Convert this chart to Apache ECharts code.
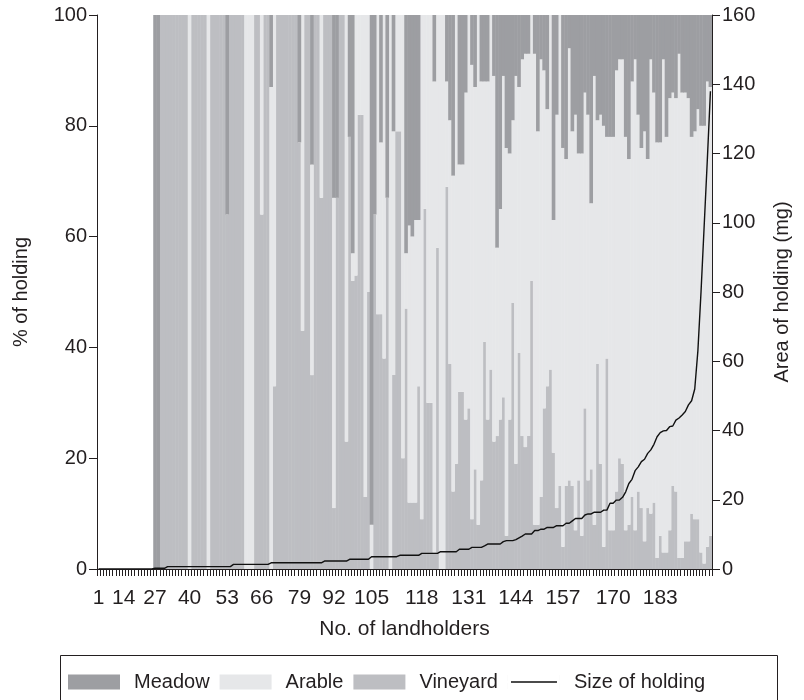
<!DOCTYPE html>
<html>
<head>
<meta charset="utf-8">
<script src="https://cdn.jsdelivr.net/npm/echarts@6/dist/echarts.min.js"></script>
<style>
  html, body { margin: 0; padding: 0; background: #ffffff; }
  #chart { width: 804px; height: 700px; }
</style>
</head>
<body>
<div id="chart"></div>
<script>
// Landholders, ranked by size of holding (one slot per landholder)
const landholders = Array.from({ length: 196 }, (_, i) => String(i + 1));

// Labels printed under the axis and the slots they sit under
const tickLabels = ['1', '14', '27', '40', '53', '66', '79', '92', '105', '118', '131', '144', '157', '170', '183'];
const labelSlots = [0, 8, 18, 29, 41, 52, 64, 75, 87, 103, 118, 133, 148, 164, 179];

// Share of each holding (%)
const meadow = [
  0,0,0,0,0,0,0,0,0,0,
  0,0,0,0,0,0,0,0,100,100,
  0,0,0,0,0,0,0,0,0,0,
  0,0,0,0,0,0,0,0,0,0,
  0,36,0,0,0,0,0,0,0,0,
  0,0,0,0,0,13,0,0,0,0,
  0,0,0,0,23,0,0,0,27,0,
  0,0,0,0,0,33,33,0,0,0,
  22,43,0,0,0,0,0,92,36,0,
  23,0,33,0,21,0,0,0,43,38,
  40,37,37,0,0,0,0,12,0,0,
  0,12,19,29,0,27,27,14,0,9,
  13,0,12,12,12,0,11,42,35,11,
  24,25,19,11,13,8,7,7,0,7,
  21,8,10,17,0,37,18,0,24,26,
  6,21,18,25,25,14,18,34,11,19,
  18,20,22,22,22,10,8,8,22,26,
  12,8,18,24,21,26,8,14,23,23,
  8,22,15,14,15,7,14,14,15,22,
  21,17,20,20,12,13
];
const arable = [
  0,0,0,0,0,0,0,0,0,0,
  0,0,0,0,0,0,0,0,0,0,
  0,0,0,0,0,0,0,0,0,100,
  0,0,0,0,0,100,0,0,0,0,
  0,0,0,0,0,0,0,100,100,100,
  0,0,36,0,0,87,67,0,0,0,
  0,0,0,0,0,57,0,0,38,0,
  0,33,0,0,0,56,0,0,0,77,
  0,5,47,18,18,87,50,8,0,54,
  31,62,0,100,44,21,21,80,10,50,
  48,51,30,91,35,70,70,85,42,100,
  100,19,44,57,81,41,41,59,71,82,
  69,92,72,47,61,64,66,34,38,58,
  70,48,33,70,48,68,71,69,48,85,
  71,79,61,50,64,42,71,85,72,59,
  78,64,75,59,69,57,66,48,81,44,
  63,76,40,71,71,76,72,73,71,66,
  75,85,68,65,74,63,82,74,75,71,
  89,75,78,71,71,91,84,81,80,68,
  70,74,77,79,84,81
];
const vineyard = [
  0,0,0,0,0,0,0,0,0,0,
  0,0,0,0,0,0,0,0,0,0,
  100,100,100,100,100,100,100,100,100,0,
  100,100,100,100,100,0,100,100,100,100,
  100,64,100,100,100,100,100,0,0,0,
  100,100,64,100,100,0,33,100,100,100,
  100,100,100,100,77,43,100,100,35,100,
  100,67,100,100,100,11,67,100,100,23,
  78,52,53,82,82,13,50,0,64,46,
  46,38,67,0,35,79,79,20,47,12,
  12,12,33,9,65,30,30,3,58,0,
  0,69,37,14,19,32,32,27,29,9,
  18,8,16,41,27,36,23,24,27,31,
  6,27,48,19,39,24,22,24,52,8,
  8,13,29,33,36,21,11,15,4,15,
  16,15,7,16,6,29,16,18,8,37,
  19,4,38,7,7,14,20,19,7,8,
  13,7,14,11,5,11,10,12,2,6,
  3,3,7,15,14,2,2,5,5,10,
  9,9,3,1,4,6
];

// Size of holding (mg)
const holdingSize = [
  0,0,0,0,0,0,0,0,0,0,
  0,0,0,0,0,0,0,0,0.2,0.2,
  0.2,0.2,0.7,0.7,0.7,0.7,0.7,0.7,0.7,0.7,
  0.7,0.7,0.7,0.7,0.7,0.7,0.7,0.7,0.7,0.7,
  0.7,0.7,0.7,1.35,1.35,1.35,1.35,1.35,1.35,1.35,
  1.35,1.35,1.35,1.35,1.35,1.8,1.8,1.8,1.8,1.8,
  1.8,1.8,1.8,1.8,1.8,1.8,1.8,1.8,1.8,1.8,
  1.8,1.8,2.3,2.3,2.3,2.3,2.3,2.3,2.3,2.3,
  2.8,2.8,2.8,2.8,2.8,2.8,2.8,3.55,3.55,3.55,
  3.55,3.55,3.55,3.55,3.55,3.55,3.95,3.95,3.95,3.95,
  3.95,3.95,3.95,4.5,4.5,4.5,4.5,4.5,4.5,5.0,
  5.0,5.0,5.0,5.0,5.0,5.7,5.7,5.7,5.7,6.25,
  6.25,6.25,6.25,6.7,7.2,7.2,7.2,7.2,7.2,7.9,
  8.2,8.2,8.2,8.5,9.0,9.5,10.1,10.1,10.1,11.1,
  11.1,11.5,11.5,12.0,12.0,12.0,12.5,12.5,12.5,13.2,
  13.2,13.9,14.6,14.6,14.6,15.6,15.9,15.9,16.4,16.4,
  16.4,17.0,17.0,19.0,19.0,19.9,19.9,20.7,22.3,24.7,
  25.9,28.4,29.5,31.0,31.7,33.4,34.4,36.0,38.2,39.4,
  39.9,40.0,41.1,41.3,43.0,43.6,44.5,45.5,47.4,48.6,
  52,63,80,99,118,138
];

const FONT = "'Liberation Sans', Arial, Helvetica, sans-serif";
const INK = '#231f20';
const COLORS = { meadow: '#9d9ea2', arable: '#e6e7e9', vineyard: '#bdbec2' };

// Legend key for the line: a plain horizontal stroke (the thin uprights keep the box 52x15)
const LINE_KEY = 'path://M0,0H0.01V15H0Z M51.99,0H52V15H51.99Z M3,6.8H49V8.2H3Z';

const chart = echarts.init(document.getElementById('chart'), null, { renderer: 'canvas' });

const textBase = { fontFamily: FONT, fontSize: 20, color: INK };
const textX = { fontFamily: FONT, fontSize: 21, color: INK };

// Slightly wider than the slot so neighbouring bars close up without seams
const BAR_WIDTH = '116%';

chart.setOption({
  animation: false,
  backgroundColor: '#ffffff',
  grid: { left: 97, right: 92, top: 15, bottom: 131, containLabel: false },
  legend: {
    top: 667,
    left: 63,
    itemWidth: 52,
    itemHeight: 15,
    itemGap: 10,
    selectedMode: false,
    textStyle: Object.assign({}, textBase, { width: 92, padding: [0, 0, 0, 9] }),
    data: [
      { name: 'Meadow', icon: 'rect' },
      { name: 'Arable', icon: 'rect' },
      { name: 'Vineyard', icon: 'rect' },
      { name: 'Size of holding', icon: LINE_KEY, itemStyle: { color: '#111111' } }
    ]
  },
  graphic: [{
    type: 'rect',
    shape: { x: 60.5, y: 655.5, width: 717, height: 60 },
    style: { fill: 'none', stroke: INK, lineWidth: 1 },
    silent: true
  }],
  xAxis: {
    type: 'category',
    data: landholders,
    boundaryGap: true,
    axisLine: { lineStyle: { color: INK, width: 1 } },
    axisTick: { show: true, interval: 0, length: 7, lineStyle: { color: INK, width: 1 } },
    axisLabel: Object.assign({}, textX, {
      interval: (i) => labelSlots.indexOf(i) !== -1,
      formatter: (v, i) => tickLabels[labelSlots.indexOf(i)],
      margin: 19
    }),
    name: 'No. of landholders',
    nameLocation: 'middle',
    nameGap: 50,
    nameTextStyle: textX
  },
  yAxis: [
    {
      type: 'value',
      position: 'left',
      min: 0, max: 100, interval: 20,
      axisLine: { show: true, lineStyle: { color: INK, width: 1 } },
      axisTick: { show: true, length: 8, lineStyle: { color: INK, width: 1 } },
      axisLabel: Object.assign({}, textBase, { margin: 10 }),
      splitLine: { show: false },
      name: '% of holding',
      nameLocation: 'middle',
      nameRotate: 90,
      nameGap: 66,
      nameTextStyle: textBase
    },
    {
      type: 'value',
      position: 'right',
      min: 0, max: 160, interval: 20,
      axisLine: { show: true, lineStyle: { color: INK, width: 1 } },
      axisTick: { show: true, length: 8, lineStyle: { color: INK, width: 1 } },
      axisLabel: Object.assign({}, textBase, { margin: 10 }),
      splitLine: { show: false },
      name: 'Area of holding (mg)',
      nameLocation: 'middle',
      nameRotate: 90,
      nameGap: 60,
      nameTextStyle: textBase
    }
  ],
  series: [
    {
      name: 'Vineyard', type: 'bar', stack: 'share',
      barWidth: BAR_WIDTH,
      itemStyle: { color: COLORS.vineyard },
      data: vineyard
    },
    {
      name: 'Arable', type: 'bar', stack: 'share',
      barWidth: BAR_WIDTH,
      itemStyle: { color: COLORS.arable },
      data: arable
    },
    {
      name: 'Meadow', type: 'bar', stack: 'share',
      barWidth: BAR_WIDTH,
      itemStyle: { color: COLORS.meadow },
      data: meadow
    },
    {
      name: 'Size of holding', type: 'line', yAxisIndex: 1,
      symbol: 'none', showSymbol: false,
      z: 5,
      lineStyle: { color: '#111111', width: 1.4 },
      itemStyle: { color: '#111111' },
      data: holdingSize
    }
  ]
});
</script>
</body>
</html>
